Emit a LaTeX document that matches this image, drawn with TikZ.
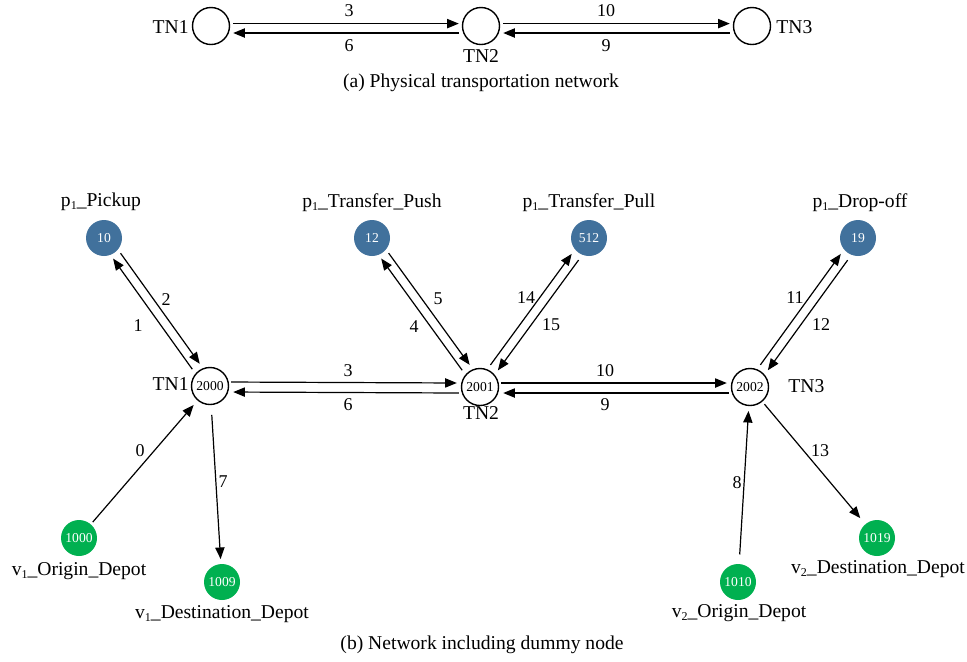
\documentclass[tikz,border=0pt]{standalone}
\usepackage{fontspec}
\setmainfont{Liberation Serif}
\usetikzlibrary{arrows.meta,calc}
\definecolor{pblue}{HTML}{41719C}
\definecolor{vgreen}{HTML}{00B050}
\tikzset{
  tn/.style={circle,draw,line width=0.7pt,minimum size=18.5pt,inner sep=0pt,
    font=\fontsize{6.8}{7}\selectfont},
  pnode/.style={circle,fill=pblue,minimum size=18pt,inner sep=0pt,text=white,
    font=\fontsize{6.8}{7}\selectfont},
  vnode/.style={pnode,fill=vgreen},
  lbl/.style={font=\fontsize{9.8}{12}\selectfont,inner sep=0pt},
  elbl/.style={font=\fontsize{9}{10}\selectfont,inner sep=0pt},
  arr/.style={line width=0.6pt,-{Triangle[length=5.8pt,width=4.6pt]}},
}
% small subscript index, as in p1 and v1
\newcommand\idx[1]{\raisebox{-0.3ex}{\fontsize{6}{6}\selectfont #1}}
% one arrow from #1 to #2, shifted to its left side, gaps #3 and #4 at the ends
\newcommand\oneway[4]{%
  \draw[arr] ($(#1)!#3!(#2)!2.3pt!90:(#2)$) -- ($(#2)!#4!(#1)!2.3pt!-90:(#1)$);}

\begin{document}
\begin{tikzpicture}[x=0.5pt,y=-0.5pt]
\useasboundingbox (0,0) rectangle (967,661);

% ---------- (a) physical network ----------
\node[tn] (a1) at (211,26) {};
\node[tn] (a2) at (481,26) {};
\node[tn] (a3) at (752,26) {};
\node[lbl,anchor=east] (la1) at (189,27) {TN1};
\node[lbl] (la2) at (481,56) {TN2};
\node[lbl,anchor=west] (la3) at (776,27) {TN3};

\draw[arr,shorten <=1.5pt,shorten >=1.5pt] ([yshift=1.2pt]a1.east) -- ([yshift=1.2pt]a2.west);
\draw[arr,shorten <=1.5pt,shorten >=1.5pt] ([yshift=-3.5pt]a2.west) -- ([yshift=-3.5pt]a1.east);
\draw[arr,shorten <=1.5pt,shorten >=1.5pt] ([yshift=1.2pt]a2.east) -- ([yshift=1.2pt]a3.west);
\draw[arr,shorten <=1.5pt,shorten >=1.5pt] ([yshift=-3.5pt]a3.west) -- ([yshift=-3.5pt]a2.east);
\node[elbl] (ea3) at (349,11) {3};
\node[elbl] (ea6) at (349,46) {6};
\node[elbl] (ea10) at (606,11) {10};
\node[elbl] (ea9) at (606,46) {9};

\node[lbl] (capa) at (481,83) {(a) Physical transportation network};

% ---------- (b) network with dummy nodes ----------
\node[tn] (b1) at (210,386) {2000};
\node[tn] (b2) at (480,387) {2001};
\node[tn] (b3) at (750,387) {2002};
\node[lbl,anchor=east] (lb1) at (189,384) {TN1};
\node[lbl] (lb2) at (481,413) {TN2};
\node[lbl,anchor=west] (lb3) at (788,386) {TN3};

\node[pnode] (p1) at (104,238) {10};
\node[pnode] (p2) at (372,238) {12};
\node[pnode] (p3) at (589,238) {512};
\node[pnode] (p4) at (858,238) {19};
\node[lbl] (lp1) at (101,202) {p\idx{1}\_Pickup};
\node[lbl] (lp2) at (372,203) {p\idx{1}\_Transfer\_Push};
\node[lbl] (lp3) at (589,203) {p\idx{1}\_Transfer\_Pull};
\node[lbl] (lp4) at (860,203) {p\idx{1}\_Drop-off};

\node[vnode] (g1) at (79,538) {1000};
\node[vnode] (g2) at (222,582) {1009};
\node[vnode] (g3) at (738,582) {1010};
\node[vnode] (g4) at (877,538) {1019};
\node[lbl] (lg1) at (79,571) {v\idx{1}\_Origin\_Depot};
\node[lbl] (lg2) at (222,614) {v\idx{1}\_Destination\_Depot};
\node[lbl] (lg3) at (739,613) {v\idx{2}\_Origin\_Depot};
\node[lbl] (lg4) at (878,569) {v\idx{2}\_Destination\_Depot};

% horizontal pairs
\draw[arr,shorten <=1pt,shorten >=2pt] ([yshift=2pt]b1.east) -- ([yshift=2pt]b2.west);
\draw[arr,shorten <=1pt,shorten >=2pt] ([yshift=-3pt]b2.west) -- ([yshift=-3pt]b1.east);
\draw[arr,shorten <=1pt,shorten >=2pt] ([yshift=2pt]b2.east) -- ([yshift=2pt]b3.west);
\draw[arr,shorten <=1pt,shorten >=2pt] ([yshift=-3pt]b3.west) -- ([yshift=-3pt]b2.east);
\node[elbl] (eb3) at (348,371) {3};
\node[elbl] (eb6) at (348,405) {6};
\node[elbl] (eb10) at (605,371) {10};
\node[elbl] (eb9) at (605,405) {9};

% diagonal pairs
\oneway{b1}{p1}{12pt}{11pt}
\oneway{p1}{b1}{11pt}{12pt}
\oneway{b2}{p2}{12pt}{11pt}
\oneway{p2}{b2}{11pt}{12pt}
\oneway{b2}{p3}{12pt}{11.5pt}
\oneway{p3}{b2}{12pt}{12pt}
\oneway{b3}{p4}{12pt}{11.5pt}
\oneway{p4}{b3}{12pt}{12pt}
\node[elbl] (e1) at (138,326) {1};
\node[elbl] (e2) at (166,300) {2};
\node[elbl] (e4) at (414,327) {4};
\node[elbl] (e5) at (438,299) {5};
\node[elbl] (e14) at (526,298) {14};
\node[elbl] (e15) at (551,325) {15};
\node[elbl] (e11) at (795,298) {11};
\node[elbl] (e12) at (821,325) {12};

% depot links
\draw[arr] ($(g1)!10.5pt!(b1)$) -- ($(b1)!12.5pt!(g1)$);
\draw[arr] ($(b1)!14.5pt!(g2)$) -- ($(g2)!11.5pt!(b1)$);
\draw[arr] ($(g3)!13.8pt!(b3)$) -- ($(b3)!12pt!(g3)$);
\draw[arr] ($(b3)!11.2pt!(g4)$) -- ($(g4)!13pt!(b3)$);
\node[elbl] (e0) at (140,451) {0};
\node[elbl] (e7) at (223,482) {7};
\node[elbl] (e8) at (737,483) {8};
\node[elbl] (e13) at (820,451) {13};

\node[lbl] (capb) at (482,645) {(b) Network including dummy node};
\end{tikzpicture}
\end{document}
